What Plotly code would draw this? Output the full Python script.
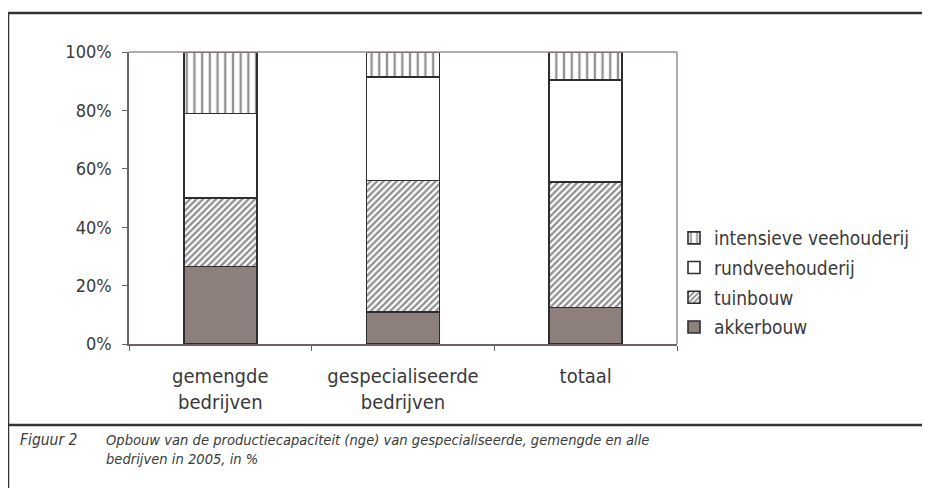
import plotly.graph_objects as go

categories = ["gemengde<br>bedrijven", "gespecialiseerde<br>bedrijven", "totaal"]
akkerbouw = [26.5, 11.0, 12.5]
tuinbouw = [23.5, 45.0, 43.0]
rundveehouderij = [29.0, 35.5, 35.0]
intensieve_veehouderij = [21.0, 8.5, 9.5]
y_ticks = [0, 20, 40, 60, 80, 100]
y_ticklabels = ["0%", "20%", "40%", "60%", "80%", "100%"]

FONT = "DejaVu Sans Condensed, Liberation Sans Narrow, Liberation Sans, sans-serif"
TXT = "#3a3a3a"
EDGE = "#2e2e2e"

fig = go.Figure()
series = [
    ("akkerbouw", akkerbouw, dict(color="#8d7f7b"), 4),
    ("tuinbouw", tuinbouw, dict(color="white", pattern=dict(shape="/", fgcolor="#1e1e1e", bgcolor="white", size=4.6, solidity=0.5, fillmode="overlay")), 3),
    ("rundveehouderij", rundveehouderij, dict(color="white"), 2),
    ("intensieve veehouderij", intensieve_veehouderij, dict(color="white", pattern=dict(shape="|", fgcolor="#222222", bgcolor="white", size=7.7, solidity=0.3, fillmode="overlay")), 1),
]
for name, vals, m, rank in series:
    m = dict(m)
    m["line"] = dict(color=EDGE, width=1.6)
    fig.add_trace(go.Bar(x=categories, y=vals, name=name, marker=m, legendgroup=name, legendrank=rank))

# body margin of 8px in the page: work in reference pixel coords, offset by 8
OFF = 8
W, H = 930 - OFF, 488 - OFF
L, R, T, B = 129, 677, 52, 344
pw, ph = R - L, B - T

def px(x):
    return (x - L) / pw

def py(y):
    return (B - y) / ph

shapes = [
    dict(type="line", xref="paper", yref="paper", x0=0, x1=1, y0=1, y1=1, line=dict(color="#9b8f8c", width=1.5)),
    dict(type="line", xref="paper", yref="paper", x0=1, x1=1, y0=0, y1=1, line=dict(color="#9b8f8c", width=1.5)),
    dict(type="line", xref="paper", yref="paper", x0=px(8), x1=px(935), y0=py(13), y1=py(13), line=dict(color="#333333", width=2.5)),
    dict(type="line", xref="paper", yref="paper", x0=px(8.5), x1=px(8.5), y0=py(13), y1=py(495), line=dict(color="#333333", width=1.5)),
    dict(type="line", xref="paper", yref="paper", x0=px(8), x1=px(935), y0=py(425), y1=py(425), line=dict(color="#333333", width=2.5)),
]

annotations = [
    dict(xref="paper", yref="paper", x=px(18), y=py(440), xanchor="left", yanchor="middle",
         text="<i>Figuur 2</i>", showarrow=False, font=dict(family=FONT, size=15.5, color=TXT)),
    dict(xref="paper", yref="paper", x=px(104), y=py(429), xanchor="left", yanchor="top", align="left",
         text="<i>Opbouw van de productiecapaciteit (nge) van gespecialiseerde, gemengde en alle<br>bedrijven in 2005, in %</i>",
         showarrow=False, font=dict(family=FONT, size=14.6, color=TXT)),
]

fig.update_layout(
    width=W, height=H,
    margin=dict(l=L - OFF, r=W - (R - OFF), t=T - OFF, b=H - (B - OFF), pad=0),
    paper_bgcolor="white", plot_bgcolor="white",
    barmode="stack", bargap=0.6,
    font=dict(family=FONT, size=19, color=TXT),
    showlegend=True,
    legend=dict(x=px(674), y=py(219), xanchor="left", yanchor="top",
                traceorder="grouped", tracegroupgap=2,
                font=dict(family=FONT, size=19, color=TXT),
                itemwidth=30, bgcolor="rgba(0,0,0,0)"),
    shapes=shapes, annotations=annotations,
)
fig.update_xaxes(showline=True, linecolor="#6b6262", linewidth=1.5, ticks="outside", tickson="boundaries",
                 ticklen=5, tickcolor="#6b6262", tickwidth=1, showgrid=False, zeroline=False,
                 tickfont=dict(family=FONT, size=20, color=TXT), ticklabelstandoff=13)
fig.update_yaxes(range=[0, 100], tickvals=y_ticks, ticktext=y_ticklabels, showline=True,
                 linecolor="#6b6262", linewidth=1.5, ticks="outside", ticklen=5, tickcolor="#6b6262",
                 tickwidth=1, showgrid=False, zeroline=False,
                 tickfont=dict(family=FONT, size=18, color=TXT), ticklabelstandoff=7)

fig.write_html("out.html")
